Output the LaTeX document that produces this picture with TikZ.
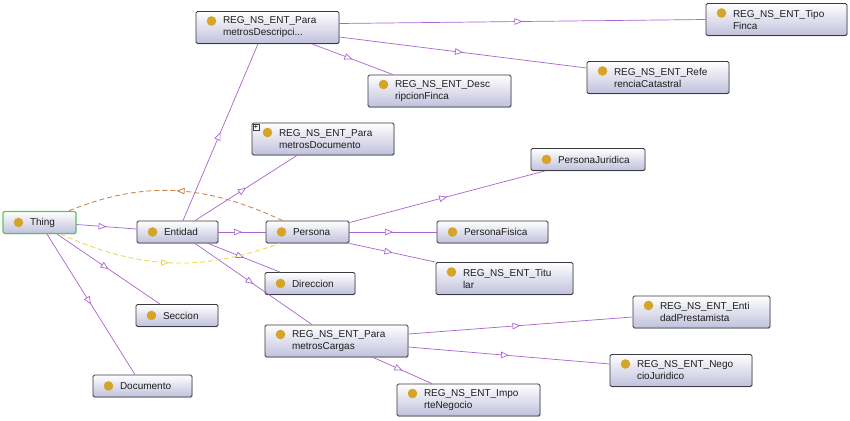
\documentclass[tikz,border=0pt]{standalone}
\usepackage{fontspec}
\setmainfont{Liberation Sans}
\usetikzlibrary{arrows.meta, decorations.markings, shadows}
\definecolor{edge_purple}{RGB}{170, 100, 206}
\definecolor{node_edge}{RGB}{58, 58, 66}
\definecolor{node_fill}{RGB}{192, 192, 220}
\definecolor{node_text}{RGB}{30, 30, 30}
\definecolor{dot_gold}{RGB}{214, 164, 40}
\definecolor{thing_green}{RGB}{90, 200, 90}
\definecolor{prop_orange}{RGB}{200, 128, 60}
\definecolor{prop_yellow}{RGB}{236, 214, 70}

\begin{document}
\begin{tikzpicture}[
    x=1pt, y=1pt,
    cls/.style={
        rectangle,
        draw=node_edge,
        line width=0.8pt,
        top color=white,
        bottom color=node_fill,
        rounded corners=1.5pt,
        drop shadow={shadow xshift=0.6pt, shadow yshift=-0.9pt, opacity=0.3},
        text width=#1,
        minimum height=22pt,
        inner xsep=0pt,
        inner ysep=0pt,
        align=left,
        text=node_text,
        font=\fontsize{10}{12}\selectfont,
        execute at begin node={\leftskip=27pt\relax},
        path picture={\fill[dot_gold] ([xshift=15.5pt]path picture bounding box.west) circle (4.8pt);}
    },
    cls_two/.style={
        cls=#1,
        minimum height=32pt,
        path picture={\fill[dot_gold] ([shift={(15.5pt,-9.5pt)}]path picture bounding box.north west) circle (4.8pt);}
    },
    isa/.style={
        draw=edge_purple,
        line width=0.7pt,
        postaction={decorate, decoration={markings,
            mark=at position 0.5 with {\arrow{Triangle[length=8pt, width=6.5pt, fill=white]}}}}
    },
    prop/.style={
        draw=#1,
        line width=0.8pt,
        dash pattern=on 5pt off 3pt,
        postaction={decorate, decoration={markings,
            mark=at position 0.5 with {\arrow{Triangle[length=8pt, width=6.5pt, fill=white]}}}}
    },
]
\fill[white] (0,0) rectangle (850,-420);
\useasboundingbox (0,0) rectangle (850,-420);

\node[cls=73pt, draw=thing_green, line width=1.2pt] (thing) at (39.5,-222.5) {Thing};
\node[cls=81pt] (entidad) at (177.5,-232) {Entidad};
\node[cls=83pt] (persona) at (307.5,-232) {Persona};

\node[cls_two=143pt] (pardesc) at (267.5,-27.5) {REG\_NS\_ENT\_Para\\metrosDescripci...};
\node[cls_two=141pt] (tipofinca) at (776.5,-19.5) {REG\_NS\_ENT\_Tipo\\Finca};
\node[cls_two=143pt] (descfinca) at (439.5,-91) {REG\_NS\_ENT\_Desc\\ripcionFinca};
\node[cls_two=142pt] (refcat) at (658,-77.5) {REG\_NS\_ENT\_Refe\\renciaCatastral};

\node[cls_two=142pt] (pardoc) at (323,-139) {REG\_NS\_ENT\_Para\\metrosDocumento};
\node[draw=node_edge, fill=white, line width=0.4pt, inner sep=0.4pt, anchor=north west,
      font=\fontsize{8}{8}\selectfont] (pardoc_plus) at ([shift={(1.5pt,-1.5pt)}]pardoc.north west) {+};

\node[cls=114pt] (perjur) at (588,-159.5) {PersonaJuridica};
\node[cls=111pt] (perfis) at (492.5,-232) {PersonaFisica};
\node[cls_two=137pt] (titular) at (504.5,-278.5) {REG\_NS\_ENT\_Titu\\lar};

\node[cls=90pt] (direccion) at (310,-283.5) {Direccion};
\node[cls=82pt] (seccion) at (177,-315.5) {Seccion};
\node[cls=99pt] (documento) at (142.5,-386) {Documento};

\node[cls_two=143pt] (parcargas) at (336.5,-341) {REG\_NS\_ENT\_Para\\metrosCargas};
\node[cls_two=137pt] (entprest) at (701.5,-312) {REG\_NS\_ENT\_Enti\\dadPrestamista};
\node[cls_two=142pt] (negjur) at (681,-370.5) {REG\_NS\_ENT\_Nego\\cioJuridico};
\node[cls_two=143pt] (impneg) at (468.5,-400) {REG\_NS\_ENT\_Impo\\rteNegocio};

% subclass arrows
\draw[isa] ([yshift=-2pt]thing.east) -- ([yshift=3pt]entidad.west);
\draw[isa] ([xshift=17.5pt]thing.south) -- ([xshift=-17pt]seccion.north);
\draw[isa] ([xshift=7.5pt]thing.south) -- ([xshift=-7.5pt]documento.north);

\draw[isa] ([xshift=5.5pt]entidad.north) -- ([xshift=-9.5pt]pardesc.south);
\draw[isa] ([xshift=17.5pt]entidad.north) -- ([xshift=-26pt]pardoc.south);
\draw[isa] (entidad.east) -- (persona.west);
\draw[isa] ([xshift=30.5pt]entidad.south) -- ([xshift=-30pt]direccion.north);
\draw[isa] ([xshift=17.5pt]entidad.south) -- ([xshift=-24.5pt]parcargas.north);

\draw[isa] ([yshift=4pt]pardesc.east) -- (tipofinca.west);
\draw[isa] ([yshift=-9.5pt]pardesc.east) -- ([yshift=9.5pt]refcat.west);
\draw[isa] ([xshift=44.5pt]pardesc.south) -- ([xshift=-46.5pt]descfinca.north);

\draw[isa] ([yshift=-2pt]persona.north east) -- ([xshift=-43pt]perjur.south);
\draw[isa] (persona.east) -- (perfis.west);
\draw[isa] (persona.south east) -- (titular.north west);

\draw[isa] ([yshift=7pt]parcargas.east) -- ([yshift=-5pt]entprest.west);
\draw[isa] ([yshift=-6pt]parcargas.east) -- ([yshift=6.5pt]negjur.west);
\draw[isa] ([xshift=36.5pt]parcargas.south) -- ([xshift=-36.5pt]impneg.north);

% property arcs
\draw[prop=prop_orange] ([xshift=17pt]persona.north west) to[out=155, in=22] ([xshift=-8pt]thing.north east);
\draw[prop=prop_yellow] ([xshift=-16pt]thing.south east) to[out=-24, in=-160] ([xshift=14pt]persona.south west);

\end{tikzpicture}
\end{document}
